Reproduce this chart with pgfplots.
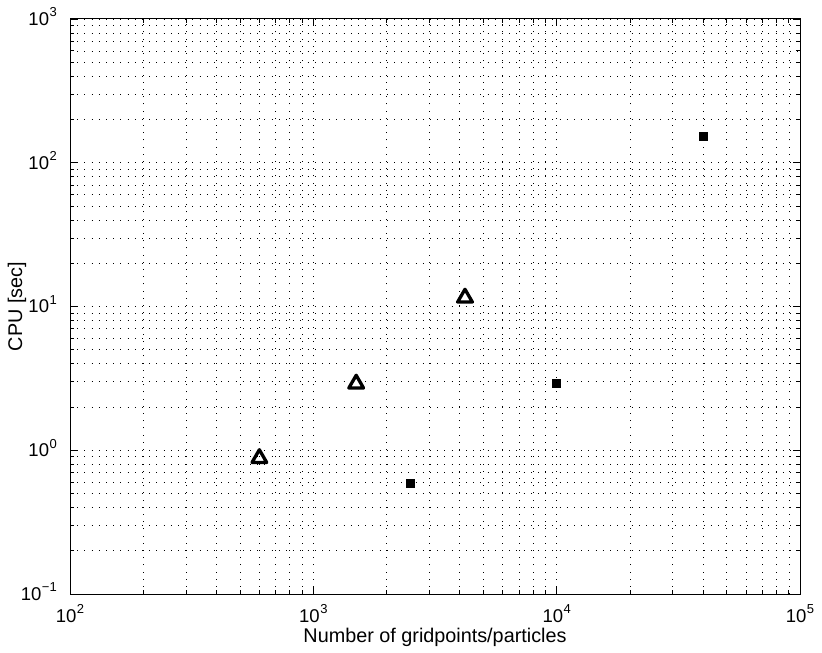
\documentclass[border=0pt]{standalone}
\usepackage{pgfplots}
\pgfplotsset{compat=1.18}
\usepackage{fontspec}
\setmainfont{Liberation Sans}

% power-of-ten tick label; the exponent is smashed so that the digits sit on the tick
\newcommand\tp[1]{10\hspace{0.5pt}\smash{\raisebox{8.5pt}{\fontsize{13}{13}\selectfont #1}}}

\begin{document}
\begin{tikzpicture}
\path[use as bounding box] (0,0) rectangle (822pt,653pt);
\begin{axis}[
  at={(70pt,59pt)}, anchor=south west,
  scale only axis, width=730pt, height=575pt,
  xmode=log, ymode=log,
  xmin=1e2, xmax=1e5, ymin=1e-1, ymax=1e3,
  xtick={1e2,1e3,1e4,1e5},
  xticklabels={\tp{2},\tp{3},\tp{4},\tp{5}},
  ytick={1e-1,1,10,100,1000},
  yticklabels={\tp{−1},\tp{0},\tp{1},\tp{2},\tp{3}},
  minor xtick={200,300,400,500,600,700,800,900,
               2000,3000,4000,5000,6000,7000,8000,9000,
               20000,30000,40000,50000,60000,70000,80000,90000},
  minor ytick={0.2,0.3,0.4,0.5,0.6,0.7,0.8,0.9,
               2,3,4,5,6,7,8,9,
               20,30,40,50,60,70,80,90,
               200,300,400,500,600,700,800,900},
  grid=both,
  major grid style={black, line width=0.7pt, dash pattern=on 0.9pt off 6.3pt},
  minor grid style={black, line width=0.7pt, dash pattern=on 0.9pt off 6.3pt},
  xtick pos=both, ytick pos=both,
  tick align=inside,
  major tick length=7pt, minor tick length=4pt,
  tick style={black, line width=0.8pt},
  axis line style={black, line width=1pt},
  ticklabel style={font=\fontsize{18.5}{20}\selectfont, inner sep=0pt},
  xticklabel style={anchor=north, yshift=-15pt},
  yticklabel style={anchor=east, xshift=-13pt},
  label style={font=\fontsize{19.8}{22}\selectfont},
  xlabel={Number of gridpoints/particles},
  xlabel style={at={(axis description cs:0.5,0)}, anchor=base, yshift=-48pt},
  ylabel={CPU [sec]},
  ylabel style={at={(axis description cs:0,0.5)}, anchor=center, yshift=53pt},
  clip=false,
]
% triangles: first series
\addplot[only marks, mark=triangle, mark size=8.5pt,
         mark options={line width=3.3pt, line join=round, draw=black}]
  coordinates {(600,0.88) (1500,2.9) (4200,11.5)};
% filled squares: second series
\addplot[only marks, mark=square*, mark size=4pt,
         mark options={line width=0.8pt, draw=black, fill=black}]
  coordinates {(2500,0.59) (10000,2.92) (40000,152)};
\end{axis}
\end{tikzpicture}
\end{document}
